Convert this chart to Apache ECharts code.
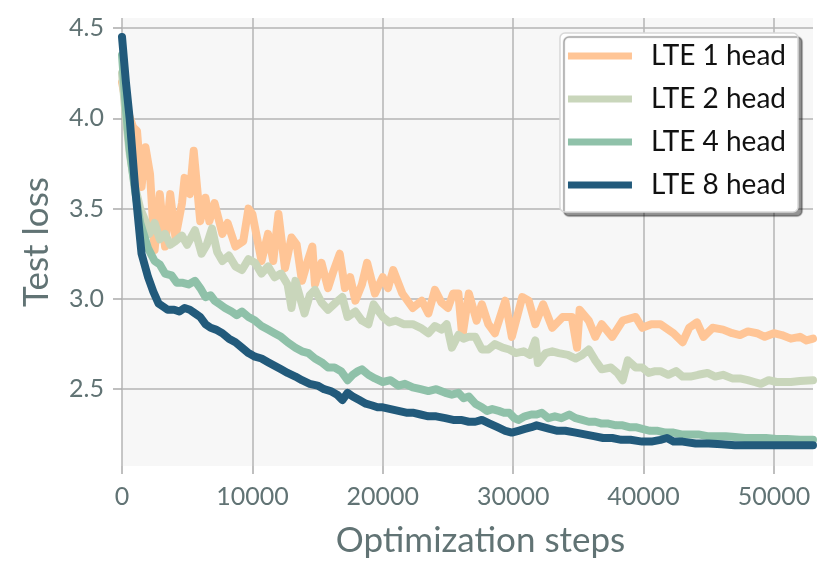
<!DOCTYPE html>
<html lang="en">
<head>
    <meta http-equiv="Content-Type" content="text/html; charset=utf-8"/>
    <title>Test loss</title>
    <script src="https://cdn.jsdelivr.net/npm/echarts@6/dist/echarts.min.js"></script>
    <style>
        html, body { margin: 0; padding: 0; background: #fff; }
        #chart { width: 830px; height: 578px; }
    </style>
</head>
<body>
<div id="chart"></div>
<script type="text/javascript">

  var seriesNames = ['LTE 1 head', 'LTE 2 head', 'LTE 4 head', 'LTE 8 head'];
  var xTicks = [0, 10000, 20000, 30000, 40000, 50000];
  var yTicks = [2.5, 3.0, 3.5, 4.0, 4.5];

  // LTE 1 head
  var lte1Steps = [0, 400, 850, 1150, 1500, 1800, 2150, 2500, 2900, 3300, 3700, 4100, 4600, 4800, 5200, 5500,
    6000, 6400, 6700, 7100, 7700, 8100, 8700, 9300, 9700, 10000, 10700, 11200, 11600, 12000, 12500, 13000,
    13400, 13800, 14200, 14600, 14800, 15300, 15800, 16200, 16700, 17100, 17500, 17900, 18400, 18800, 19400,
    20000, 20400, 20800, 21500, 22300, 23000, 23500, 24000, 24500, 25000, 25400, 25800, 26100, 26600, 27200,
    27600, 28100, 28600, 29400, 29900, 30700, 31200, 31700, 32300, 33000, 33800, 34500, 34900, 35100, 35800,
    36300, 36800, 37600, 38400, 39400, 39900, 40600, 41300, 42300, 43000, 43500, 44100, 44600, 45300, 46100,
    46800, 47400, 48000, 48700, 49300, 50000, 50600, 51300, 52000, 52500, 53000];
  var lte1Loss = [4.20, 4.05, 3.95, 3.93, 3.62, 3.84, 3.69, 3.27, 3.58, 3.29, 3.58, 3.34, 3.53, 3.67, 3.58, 3.82,
    3.43, 3.56, 3.43, 3.53, 3.36, 3.42, 3.29, 3.32, 3.50, 3.47, 3.21, 3.36, 3.21, 3.47, 3.17, 3.34,
    3.30, 3.10, 3.20, 3.29, 3.08, 3.20, 3.06, 3.15, 3.25, 3.06, 3.12, 2.99, 3.08, 3.20, 3.03,
    3.12, 3.06, 3.16, 3.03, 2.95, 2.99, 2.92, 3.05, 2.98, 2.95, 3.03, 3.03, 2.79, 3.03, 2.88,
    2.97, 2.86, 2.81, 2.99, 2.79, 3.01, 2.99, 2.86, 2.97, 2.84, 2.90, 2.90, 2.73, 2.94, 2.88,
    2.79, 2.86, 2.79, 2.88, 2.90, 2.84, 2.86, 2.86, 2.81, 2.76, 2.84, 2.87, 2.79, 2.84, 2.83,
    2.81, 2.80, 2.82, 2.81, 2.79, 2.81, 2.80, 2.78, 2.79, 2.77, 2.78];

  // LTE 2 head
  var lte2Steps = [0, 300, 600, 1000, 1400, 1800, 2100, 2500, 2900, 3300, 3700, 4100, 4600, 5000, 5600, 6100,
    6500, 6900, 7300, 7700, 8200, 8700, 9200, 9700, 10200, 10700, 11200, 11700, 12200, 12700, 13000, 13300,
    14000, 14400, 14800, 15300, 15800, 16400, 16900, 17300, 17900, 18400, 18900, 19300, 20000, 20500, 21000,
    21600, 22300, 22900, 23500, 24000, 24500, 24900, 25300, 25800, 26200, 26600, 27100, 27600, 28100, 28600,
    29200, 29700, 30200, 30800, 31300, 31700, 31900, 32500, 33000, 33500, 34200, 34800, 35300, 35800, 36300,
    36800, 37500, 38000, 38400, 38800, 39400, 39900, 40400, 40900, 41300, 41900, 42500, 43000, 43600, 44200,
    44900, 45500, 46100, 46800, 47400, 48000, 48500, 49000, 49600, 50200, 50800, 51300, 52000, 53000];
  var lte2Loss = [4.25, 4.00, 3.80, 3.62, 3.50, 3.43, 3.36, 3.42, 3.33, 3.36, 3.30, 3.32, 3.35, 3.30, 3.38, 3.25,
    3.30, 3.39, 3.26, 3.21, 3.24, 3.18, 3.16, 3.22, 3.20, 3.14, 3.18, 3.12, 3.14, 3.08, 2.95, 3.10,
    2.92, 3.02, 3.05, 2.98, 2.94, 2.98, 3.01, 2.90, 2.93, 2.88, 2.86, 2.97, 2.90, 2.87, 2.88,
    2.86, 2.86, 2.84, 2.81, 2.85, 2.83, 2.86, 2.73, 2.80, 2.78, 2.79, 2.79, 2.72, 2.72, 2.75,
    2.73, 2.72, 2.70, 2.71, 2.69, 2.77, 2.645, 2.70, 2.71, 2.70, 2.69, 2.67, 2.69, 2.72, 2.66,
    2.61, 2.62, 2.59, 2.55, 2.66, 2.62, 2.62, 2.59, 2.60, 2.60, 2.58, 2.60, 2.57, 2.57, 2.58,
    2.59, 2.57, 2.58, 2.56, 2.56, 2.55, 2.54, 2.53, 2.55, 2.54, 2.54, 2.54, 2.545, 2.55];

  // LTE 4 head
  var lte4Steps = [0, 300, 600, 1000, 1400, 2000, 2500, 2900, 3300, 3800, 4200, 4600, 5100, 5600, 6000, 6400,
    6800, 7100, 7500, 7900, 8400, 8800, 9200, 9700, 10200, 10700, 11200, 11700, 12200, 12700, 13300, 13800,
    14300, 14800, 15300, 15800, 16300, 16800, 17300, 17700, 18100, 18400, 18900, 19400, 20000, 20600, 21200,
    21700, 22300, 22900, 23500, 24100, 24800, 25300, 25800, 26200, 26600, 27100, 27600, 28000, 28400, 28900,
    29300, 29700, 30100, 30400, 30900, 31400, 31800, 32200, 32700, 33200, 33700, 34300, 34800, 35300, 35800,
    36300, 36800, 37300, 37900, 38400, 38900, 39400, 39900, 40500, 41100, 41700, 42300, 42900, 43500, 44200,
    44900, 45600, 46300, 47000, 47800, 48600, 49400, 50200, 51000, 52000, 53000];
  var lte4Loss = [4.35, 4.05, 3.82, 3.60, 3.42, 3.28, 3.21, 3.19, 3.14, 3.13, 3.09, 3.09, 3.08, 3.10, 3.06, 3.01,
    3.02, 2.99, 2.97, 2.95, 2.93, 2.91, 2.93, 2.90, 2.88, 2.85, 2.83, 2.81, 2.79, 2.76, 2.73, 2.71,
    2.70, 2.67, 2.65, 2.62, 2.62, 2.60, 2.55, 2.58, 2.60, 2.61, 2.58, 2.56, 2.54, 2.55, 2.52,
    2.53, 2.51, 2.50, 2.49, 2.50, 2.48, 2.47, 2.48, 2.45, 2.46, 2.42, 2.40, 2.38, 2.39, 2.38,
    2.37, 2.37, 2.34, 2.33, 2.35, 2.36, 2.36, 2.37, 2.34, 2.35, 2.34, 2.36, 2.34, 2.33, 2.32,
    2.32, 2.31, 2.31, 2.30, 2.30, 2.29, 2.29, 2.28, 2.27, 2.27, 2.26, 2.26, 2.25, 2.25, 2.25,
    2.24, 2.24, 2.24, 2.235, 2.23, 2.23, 2.23, 2.225, 2.225, 2.22, 2.22];

  // LTE 8 head
  var lte8Steps = [0, 300, 600, 1000, 1500, 2000, 2400, 2800, 3200, 3500, 4000, 4400, 4800, 5200, 5600, 6000,
    6400, 6800, 7200, 7700, 8200, 8700, 9200, 9700, 10200, 10700, 11200, 11700, 12200, 12700, 13300, 13800,
    14400, 15000, 15500, 16000, 16500, 16900, 17300, 17700, 18200, 18700, 19200, 19600, 20000, 20600, 21200,
    21800, 22300, 22900, 23500, 24100, 24800, 25400, 26000, 26600, 27100, 27600, 28200, 28800, 29400, 29900,
    30400, 30900, 31400, 31800, 32300, 32800, 33400, 34000, 34800, 35500, 36200, 36900, 37600, 38300, 39000,
    39900, 40600, 41300, 41800, 42300, 43000, 44000, 45000, 46000, 47000, 48000, 50000, 53000];
  var lte8Loss = [4.45, 4.20, 3.99, 3.62, 3.25, 3.12, 3.04, 2.975, 2.955, 2.94, 2.94, 2.93, 2.95, 2.94, 2.92, 2.90,
    2.86, 2.84, 2.83, 2.81, 2.78, 2.76, 2.73, 2.70, 2.68, 2.67, 2.65, 2.63, 2.61, 2.59, 2.57, 2.55,
    2.53, 2.52, 2.50, 2.49, 2.47, 2.44, 2.48, 2.46, 2.44, 2.42, 2.41, 2.40, 2.40, 2.39, 2.38,
    2.37, 2.37, 2.36, 2.35, 2.35, 2.34, 2.33, 2.33, 2.32, 2.32, 2.33, 2.31, 2.29, 2.27, 2.26,
    2.27, 2.28, 2.29, 2.30, 2.29, 2.28, 2.27, 2.27, 2.26, 2.25, 2.24, 2.23, 2.23, 2.22, 2.22,
    2.21, 2.21, 2.22, 2.23, 2.21, 2.21, 2.20, 2.20, 2.195, 2.19, 2.19, 2.19, 2.19];

  var colors = ['#ffc596', '#c9d6bb', '#8fc1a9', '#225a7b'];
  var allSteps = [lte1Steps, lte2Steps, lte4Steps, lte8Steps];
  var allLoss = [lte1Loss, lte2Loss, lte4Loss, lte8Loss];

  function zip(xs, ys) {
    return xs.map(function (x, i) { return [x, ys[i]]; });
  }

  var labelColor = '#617374';
  var fontName = 'Lato';

  var chart = echarts.init(document.getElementById('chart'), null, {renderer: 'canvas'});

  var option = {
    animation: false,
    grid: {
      left: 122, right: 17, top: 18, bottom: 112,
      show: true, backgroundColor: '#f7f7f7', borderWidth: 0
    },
    legend: {
      right: 32, top: 33,
      orient: 'vertical',
      data: seriesNames,
      icon: 'rect',
      itemWidth: 64, itemHeight: 7,
      itemGap: 15,
      padding: [9, 12, 13, 8],
      backgroundColor: '#fff',
      borderColor: '#d8d8d8', borderWidth: 1.5, borderRadius: 5,
      shadowColor: 'rgba(0,0,0,0.4)', shadowOffsetX: 4, shadowOffsetY: 4, shadowBlur: 1,
      textStyle: {
        fontFamily: fontName, fontSize: 28, color: '#111',
        padding: [0, 0, 0, 14]
      }
    },
    xAxis: {
      type: 'value',
      min: 0, max: 53000,
      name: 'Optimization steps',
      nameLocation: 'middle', nameGap: 57,
      nameTextStyle: {fontFamily: fontName, fontSize: 35, color: labelColor, padding: [0, 0, 0, 26]},
      axisLine: {show: false},
      axisTick: {show: true, length: 8, lineStyle: {color: '#aaa', width: 1.5}, customValues: xTicks},
      axisLabel: {
        fontFamily: fontName, fontSize: 25, color: labelColor, margin: 18, customValues: xTicks,
        formatter: function (v) { return String(v); }
      },
      splitLine: {show: true, lineStyle: {color: '#b4b4b4', width: 1.5}}
    },
    yAxis: {
      type: 'value',
      min: 2.075, max: 4.555,
      name: 'Test loss',
      nameLocation: 'middle', nameGap: 68,
      nameTextStyle: {fontFamily: fontName, fontSize: 35, color: labelColor},
      axisLine: {show: false},
      axisTick: {show: true, length: 9, lineStyle: {color: '#aaa', width: 1.5}, customValues: yTicks},
      axisLabel: {
        fontFamily: fontName, fontSize: 25, color: labelColor, margin: 18, customValues: yTicks,
        formatter: function (v) { return v.toFixed(1); }
      },
      splitLine: {show: true, lineStyle: {color: '#b4b4b4', width: 1.5}}
    },
    series: seriesNames.map(function (name, i) {
      return {
        name: name,
        type: 'line',
        showSymbol: false,
        symbol: 'none',
        data: zip(allSteps[i], allLoss[i]),
        itemStyle: {color: colors[i]},
        lineStyle: {color: colors[i], width: 8, cap: 'round', join: 'round'},
        z: 2 + i
      };
    })
  };

  chart.setOption(option);
</script>
</body>
</html>
